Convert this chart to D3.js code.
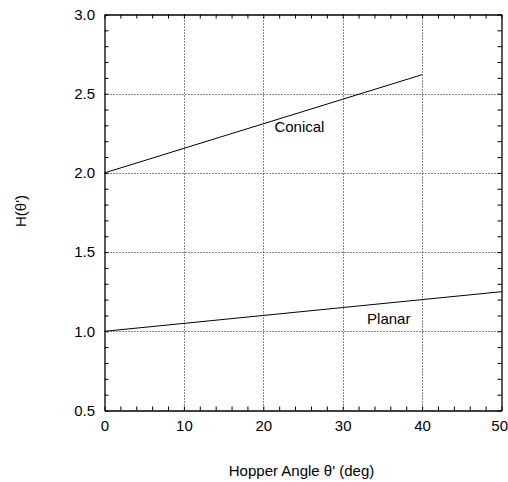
<!DOCTYPE html>
<html>
<head>
<meta charset="utf-8">
<script src="https://cdn.jsdelivr.net/npm/d3@7"></script>
<style>
body { margin: 0; background: #fff; }
text { font-family: "Liberation Sans", Arial, sans-serif; fill: #000; }
</style>
</head>
<body>
<div id="chart"></div>
<script>
// data
var angles_conical = [0, 10, 20, 30, 40];
var h_conical = [2.0, 2.155, 2.31, 2.465, 2.62];
var angles_planar = [0, 10, 20, 30, 40, 50];
var h_planar = [1.0, 1.05, 1.10, 1.15, 1.20, 1.25];
var x_ticks = [0, 10, 20, 30, 40, 50];
var y_ticks = [0.5, 1.0, 1.5, 2.0, 2.5, 3.0];

var chart_width = 508;
var chart_height = 482;
var plot_left = 104.5, plot_right = 501.5, plot_top = 14.5, plot_bottom = 410.5;
var font_size = '15px';

var svg = d3.select('#chart')
    .append('svg')
    .attr('width', chart_width)
    .attr('height', chart_height);

var x_scale = d3.scaleLinear().domain([0, 50]).range([plot_left, plot_right]);
var y_scale = d3.scaleLinear().domain([0.5, 3.0]).range([plot_bottom, plot_top]);

// grid (dotted)
var grid = svg.append('g')
    .attr('stroke', '#111')
    .attr('stroke-width', 1)
    .attr('stroke-dasharray', '1,2');
grid.selectAll('.vgrid')
    .data(x_ticks.slice(1, -1))
    .enter()
    .append('line')
    .attr('x1', function (d) { return Math.round(x_scale(d)) + 0.5; })
    .attr('x2', function (d) { return Math.round(x_scale(d)) + 0.5; })
    .attr('y1', plot_top)
    .attr('y2', plot_bottom);
grid.selectAll('.hgrid')
    .data(y_ticks.slice(1, -1))
    .enter()
    .append('line')
    .attr('y1', function (d) { return Math.round(y_scale(d)) + 0.5; })
    .attr('y2', function (d) { return Math.round(y_scale(d)) + 0.5; })
    .attr('x1', plot_left)
    .attr('x2', plot_right);

// axes with inward ticks on all four sides
var x_minor = d3.range(0, 50.01, 2);
var y_minor = d3.range(0.5, 3.001, 0.1);

function add_axis(axis, tr, labels) {
    var g = svg.append('g')
        .attr('transform', tr)
        .call(axis);
    g.select('.domain').attr('stroke', '#000').attr('stroke-width', 1.3);
    g.selectAll('.tick line').attr('stroke', '#000');
    g.selectAll('text')
        .style('font-size', font_size)
        .style('font-family', '"Liberation Sans", Arial, sans-serif');
    if (!labels) g.selectAll('text').remove();
    return g;
}

var x_axis_g = add_axis(d3.axisBottom(x_scale).tickValues(x_minor).tickSize(-4).tickSizeOuter(0)
    .tickFormat(function (d) { return x_ticks.indexOf(d) >= 0 ? d : ''; }),
    'translate(0,' + plot_bottom + ')', true);
x_axis_g.selectAll('text').attr('y', 20).attr('dy', 0);
// last label sits at the window edge, keep it inside
x_axis_g.selectAll('.tick')
    .filter(function (d) { return d === 50; })
    .select('text')
    .attr('text-anchor', 'end')
    .attr('x', 6);
add_axis(d3.axisTop(x_scale).tickValues(x_minor).tickSize(-4).tickSizeOuter(0),
    'translate(0,' + plot_top + ')', false);
add_axis(d3.axisLeft(y_scale).tickValues(y_minor).tickSize(-4).tickSizeOuter(0)
    .tickPadding(9.5).tickFormat(function (d) {
        return y_ticks.some(function (t) { return Math.abs(t - d) < 1e-6; }) ? d3.format('.1f')(d) : '';
    }),
    'translate(' + plot_left + ',0)', true);
add_axis(d3.axisRight(y_scale).tickValues(y_minor).tickSize(-4).tickSizeOuter(0),
    'translate(' + plot_right + ',0)', false);

// curves
var line = d3.line()
    .x(function (d) { return x_scale(d[0]); })
    .y(function (d) { return y_scale(d[1]); });

svg.append('path')
    .datum(d3.zip(angles_conical, h_conical))
    .attr('d', line)
    .attr('fill', 'none')
    .attr('stroke', '#000')
    .attr('stroke-width', 1);

svg.append('path')
    .datum(d3.zip(angles_planar, h_planar))
    .attr('d', line)
    .attr('fill', 'none')
    .attr('stroke', '#000')
    .attr('stroke-width', 1);

// curve labels
svg.append('text')
    .attr('x', x_scale(24.55))
    .attr('y', y_scale(2.26))
    .attr('text-anchor', 'middle')
    .style('font-size', font_size)
    .text('Conical');
svg.append('text')
    .attr('x', x_scale(35.8))
    .attr('y', y_scale(1.046))
    .attr('text-anchor', 'middle')
    .style('font-size', font_size)
    .text('Planar');

// axis titles
svg.append('text')
    .attr('x', 301.5)
    .attr('y', 476)
    .attr('text-anchor', 'middle')
    .style('font-size', font_size)
    .text('Hopper Angle θ\' (deg)');

svg.append('text')
    .attr('transform', 'translate(26,211) rotate(-90)')
    .attr('text-anchor', 'middle')
    .style('font-size', font_size)
    .text('H(θ\')');
</script>
</body>
</html>
